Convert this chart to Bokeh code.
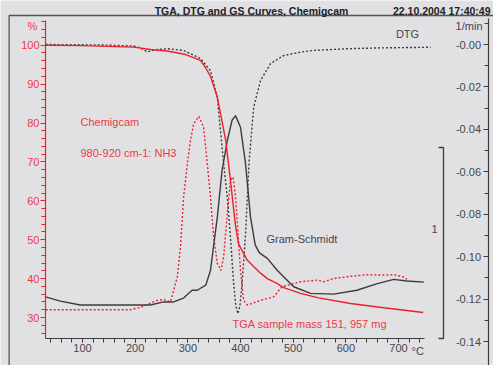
from bokeh.plotting import figure
from bokeh.models import Range1d, LinearAxis, FixedTicker, CustomJSTickFormatter, Label
from bokeh.embed import file_html
from bokeh.resources import INLINE

# ---------------- data ----------------
tga_temp = [30, 96, 197, 229, 261, 296, 324, 333, 343, 356, 372, 381, 390, 396, 413, 438,
            451, 470, 482, 514, 546, 609, 672, 747]
tga_pct = [100.0, 99.9, 99.5, 98.9, 98.5, 97.6, 96.1, 94.4, 92.0, 86.6, 75.5, 65.2, 54.2, 49.0,
           44.7, 41.4, 40.0, 38.7, 37.7, 36.2, 35.1, 33.6, 32.5, 31.3]

dtg_temp = [30, 134, 197, 210, 223, 239, 261, 292, 324, 343, 356, 362, 368, 375, 381, 387, 391,
            395, 399, 403, 410, 416, 425, 438, 457, 482, 514, 539, 603, 666, 761]
dtg_rate = [0.0, -0.0002, -0.0007, -0.0016, -0.0035, -0.0024, -0.0020, -0.0028, -0.0066, -0.0123,
            -0.0250, -0.0405, -0.0561, -0.0721, -0.0910, -0.1127, -0.1230, -0.1269, -0.1230,
            -0.1127, -0.0877, -0.0561, -0.0296, -0.0170, -0.0090, -0.0052, -0.0036, -0.0028,
            -0.0020, -0.0016, -0.0013]

gs_temp = [30, 58, 96, 191, 229, 254, 273, 292, 308, 318, 334, 343, 356, 365, 375, 384, 390.5,
           400, 409.5, 419, 428, 436, 451, 470, 501, 533, 577, 621, 660, 691, 716, 748]
gs_signal = [35.3, 34.2, 33.2, 33.2, 33.2, 34.0, 34.0, 35.0, 37.0, 37.0, 38.3, 42.1, 55.8, 67.8,
             75.5, 80.7, 81.9, 78.9, 69.6, 55.8, 48.6, 46.6, 45.2, 42.1, 37.9, 36.2, 36.0, 37.0,
             38.7, 39.8, 39.4, 39.1]

nh3_temp = [30, 134, 191, 210, 229, 242, 254, 267, 273, 280, 286, 292, 299, 305, 311, 321, 330,
            337, 343, 349, 356, 363, 368, 375, 381, 386, 390.5, 395, 400, 406, 413, 438, 463, 473,
            479, 514, 546, 558, 577, 609, 640, 672, 691, 710, 716]
nh3_signal = [32.0, 32.0, 32.0, 32.6, 33.7, 34.4, 34.6, 34.0, 37.0, 40.4, 48.1, 61.0, 69.5, 75.5,
              79.8, 81.7, 78.9, 69.5, 61.0, 50.7, 43.9, 42.1, 45.6, 56.7, 65.3, 66.1, 61.0, 52.4,
              42.1, 34.4, 33.2, 34.4, 35.3, 37.0, 37.9, 39.2, 39.6, 39.2, 40.0, 40.6, 41.0, 40.9,
              41.0, 40.4, 39.8]

x_ticks = [100, 200, 300, 400, 500, 600, 700]
x_minor = [t for t in range(40, 750, 20)]
pct_ticks = [30, 40, 50, 60, 70, 80, 90, 100]
pct_minor = [t for t in range(26, 107, 2)]
dtg_ticks = [0.0, -0.02, -0.04, -0.06, -0.08, -0.10, -0.12, -0.14]
dtg_minor = [0.01, -0.01, -0.03, -0.05, -0.07, -0.09, -0.11, -0.13]

title_text = "TGA, DTG and GS Curves, Chemigcam"
date_text = "22.10.2004 17:40:49"

# ---------------- layout (page pixels of the reference) ----------------
W, H = 493, 365
OX, OY = 0, 0


def xd(px):
    return 100 + (px - 82.0) * (600.0 / (398.0 - 82.0))


def yd(py):
    return 100 - (py - 44.7) * (70.0 / (317.0 - 44.7))


def dd(py):
    return -(py - 44.0) * (0.14 / (341.0 - 44.0))


RED = "#ef1f2b"
RED_TXT = "#ee3a46"
DARK = "#3c3c3c"
DARK_TXT = "#45464e"
BG = "#e1e1e3"
FONT = "Liberation Sans"

p = figure(width=W, height=H, output_backend="svg", toolbar_location=None,
           x_range=Range1d(xd(OX), xd(OX + W)), y_range=Range1d(yd(OY + H), yd(OY)),
           x_axis_location=None, y_axis_location=None, title_location=None,
           min_border=0, min_border_left=0, min_border_right=0, min_border_top=0,
           min_border_bottom=0, background_fill_color=BG, border_fill_color=BG,
           outline_line_color=None, tools="")
p.xgrid.visible = False
p.ygrid.visible = False
p.extra_y_ranges = {"dtg": Range1d(dd(OY + H), dd(OY))}

x_axis_y = yd(337.5)
left_axis_x = xd(45.0)

# outer frame lines (decoration)
p.line([xd(8.6), xd(8.6), xd(W)], [yd(H), yd(15.0), yd(15.0)],
       line_color="#555558", line_width=1.3)

# % axis
ax_pct = LinearAxis(fixed_location=left_axis_x, bounds=(x_axis_y, 106.3),
                    ticker=FixedTicker(ticks=pct_ticks, minor_ticks=pct_minor))
ax_pct.axis_line_color = RED
ax_pct.axis_line_width = 1.2
ax_pct.major_tick_line_color = RED
ax_pct.minor_tick_line_color = RED
ax_pct.major_tick_out = 5
ax_pct.major_tick_in = 0
ax_pct.minor_tick_out = 4
ax_pct.minor_tick_in = 0
ax_pct.major_label_text_color = RED_TXT
ax_pct.major_label_text_font = FONT
ax_pct.major_label_text_font_size = "11px"
ax_pct.major_label_standoff = 1
p.add_layout(ax_pct, "left")

# temperature axis
ax_x = LinearAxis(fixed_location=x_axis_y, bounds=(left_axis_x, 749),
                  ticker=FixedTicker(ticks=x_ticks, minor_ticks=x_minor))
ax_x.axis_line_color = DARK
ax_x.axis_line_width = 1.2
ax_x.major_tick_line_color = DARK
ax_x.minor_tick_line_color = DARK
ax_x.major_tick_out = 4
ax_x.major_tick_in = 0
ax_x.minor_tick_out = 4
ax_x.minor_tick_in = 0
ax_x.major_label_text_color = DARK_TXT
ax_x.major_label_text_font = FONT
ax_x.major_label_text_font_size = "11px"
ax_x.major_label_standoff = 2
p.add_layout(ax_x, "below")

# DTG axis (labels to the left of its line, at the right of the plot)
ax_d = LinearAxis(y_range_name="dtg", fixed_location=xd(487.5), bounds=(dd(OY + H), dd(18.0)),
                  ticker=FixedTicker(ticks=dtg_ticks, minor_ticks=dtg_minor),
                  formatter=CustomJSTickFormatter(code="return '-' + Math.abs(tick).toFixed(2);"))
ax_d.axis_line_color = DARK
ax_d.axis_line_width = 1.2
ax_d.major_tick_line_color = DARK
ax_d.minor_tick_line_color = DARK
ax_d.major_tick_out = 5
ax_d.major_tick_in = 0
ax_d.minor_tick_out = 4
ax_d.minor_tick_in = 0
ax_d.major_label_text_color = DARK_TXT
ax_d.major_label_text_font = FONT
ax_d.major_label_text_font_size = "11px"
ax_d.major_label_standoff = 2
p.add_layout(ax_d, "left")

# curves
p.line(nh3_temp, nh3_signal, line_color=RED, line_width=1.4, line_dash="2 2")
p.line(gs_temp, gs_signal, line_color=DARK, line_width=1.4)
p.line(dtg_temp, dtg_rate, y_range_name="dtg", line_color=DARK, line_width=1.4, line_dash="2 2")
p.line(tga_temp, tga_pct, line_color=RED, line_width=1.4)

# Gram-Schmidt scale bar
p.line([xd(438), xd(443), xd(443), xd(438)], [yd(147), yd(147), yd(338), yd(338)],
       line_color=DARK, line_width=1.3)


def lab(x, y, text, color, align="left", size="11px", style="normal", baseline="middle"):
    p.add_layout(Label(x=x, y=y, text=text, text_color=color, text_align=align,
                       text_baseline=baseline, text_font=FONT, text_font_size=size,
                       text_font_style=style))


lab(xd(251), yd(10.5), title_text, "#222226", align="center", size="10.5px", style="bold",
    baseline="alphabetic")
lab(xd(490), yd(10.5), date_text, "#222226", align="right", size="10.5px", style="bold",
    baseline="alphabetic")
lab(xd(32), yd(25), "%", RED_TXT, align="center")
lab(xd(482), yd(25), "1/min", DARK_TXT, align="right")
lab(xd(407), yd(33), "DTG", DARK_TXT, align="center")
lab(xd(80), yd(121), "Chemigcam", RED_TXT)
lab(xd(80), yd(152), "980-920 cm-1: NH3", RED_TXT)
lab(xd(266), yd(238), "Gram-Schmidt", DARK_TXT)
lab(xd(232), yd(323), "TGA sample mass 151, 957 mg", RED_TXT)
lab(xd(434), yd(228), "1", "#3c4660", align="center")
lab(xd(411), yd(350), "\u00b0C", DARK_TXT)

open("out.html", "w").write(file_html(p, INLINE))
